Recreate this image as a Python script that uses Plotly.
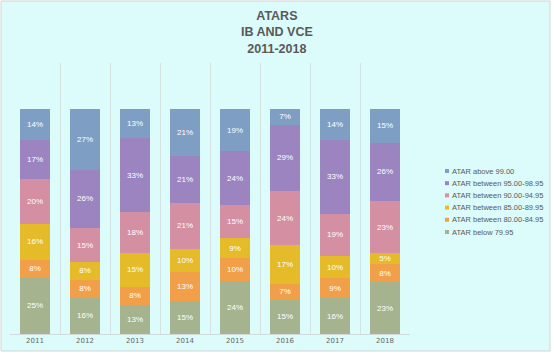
import plotly.graph_objects as go

years = ["2011", "2012", "2013", "2014", "2015", "2016", "2017", "2018"]
below_7995 = [25, 16, 13, 15, 24, 15, 16, 23]
b80_8495 = [8, 8, 8, 13, 10, 7, 9, 8]
b85_8995 = [16, 8, 15, 10, 9, 17, 10, 5]
b90_9495 = [20, 15, 18, 21, 15, 24, 19, 23]
b95_9895 = [17, 26, 33, 21, 24, 29, 33, 26]
above_99 = [14, 27, 13, 21, 19, 7, 14, 15]

series = [
    ("ATAR below 79.95", below_7995, "#a5b48e"),
    ("ATAR between 80.00-84.95", b80_8495, "#f1a049"),
    ("ATAR between 85.00-89.95", b85_8995, "#e5bb29"),
    ("ATAR between 90.00-94.95", b90_9495, "#d48fa2"),
    ("ATAR between 95.00-98.95", b95_9895, "#9c84c1"),
    ("ATAR above 99.00", above_99, "#7f9ec3"),
]

W, H = 554, 357
L, R, T, B = 10, 144, 63, 23
PW, PH = W - L - R, H - T - B


def px_x(px):
    return (px - L) / PW


def px_y(py):
    return (H - B - py) / PH


fig = go.Figure()
for name, vals, col in series:
    fig.add_trace(go.Bar(
        x=years, y=vals, name=name, marker=dict(color=col, line=dict(width=0)),
        text=[f"{v}%" for v in vals], textposition="inside", insidetextanchor="middle",
        textfont=dict(color="white", size=8, family="Arial"), textangle=0,
        showlegend=False,
    ))

bg = "#dcfbfb"
annotations = [dict(
    text="<b>ATARS<br>IB AND VCE<br>2011-2018</b>", xref="paper", yref="paper",
    x=px_x(277), y=px_y(7), xanchor="center", yanchor="top", showarrow=False,
    font=dict(family="Arial", size=12.5, color="#595959"),
)]
shapes = [dict(type="rect", xref="paper", yref="paper", x0=px_x(1), x1=px_x(550),
               y0=px_y(351), y1=px_y(1), line=dict(color="#d4d4d4", width=1),
               fillcolor=bg, layer="below")]

# custom legend (top entry = last series)
for i, (name, vals, col) in enumerate(reversed(series)):
    cy = 171 + i * 12.2
    shapes.append(dict(type="rect", xref="paper", yref="paper",
                       x0=px_x(445), x1=px_x(449), y0=px_y(cy + 2), y1=px_y(cy - 2),
                       line=dict(width=0), fillcolor=col))
    annotations.append(dict(text=name, xref="paper", yref="paper", x=px_x(450), y=px_y(cy),
                            xanchor="left", yanchor="middle", showarrow=False,
                            font=dict(family="Arial", size=7.5, color="#595959")))

fig.update_layout(
    barmode="stack", barnorm="percent", bargap=0.4,
    width=W, height=H,
    margin=dict(l=L, r=R, t=T, b=B),
    paper_bgcolor="white", plot_bgcolor="rgba(0,0,0,0)",
    showlegend=False,
    font=dict(family="Arial", color="#595959"),
    uniformtext=dict(minsize=7, mode="show"),
    annotations=annotations, shapes=shapes,
)
fig.update_xaxes(showgrid=True, gridcolor="#d6e2e2", gridwidth=1, tickson="boundaries",
                 ticks="", showline=True, linecolor="#cfdada",
                 tickfont=dict(size=7, color="#666666", family="DejaVu Sans"))
fig.update_yaxes(range=[0, 120.4], showgrid=False, showticklabels=False, zeroline=False)

fig.write_html("out.html", config={"displayModeBar": False},
               post_script="document.body.style.margin='0';")
